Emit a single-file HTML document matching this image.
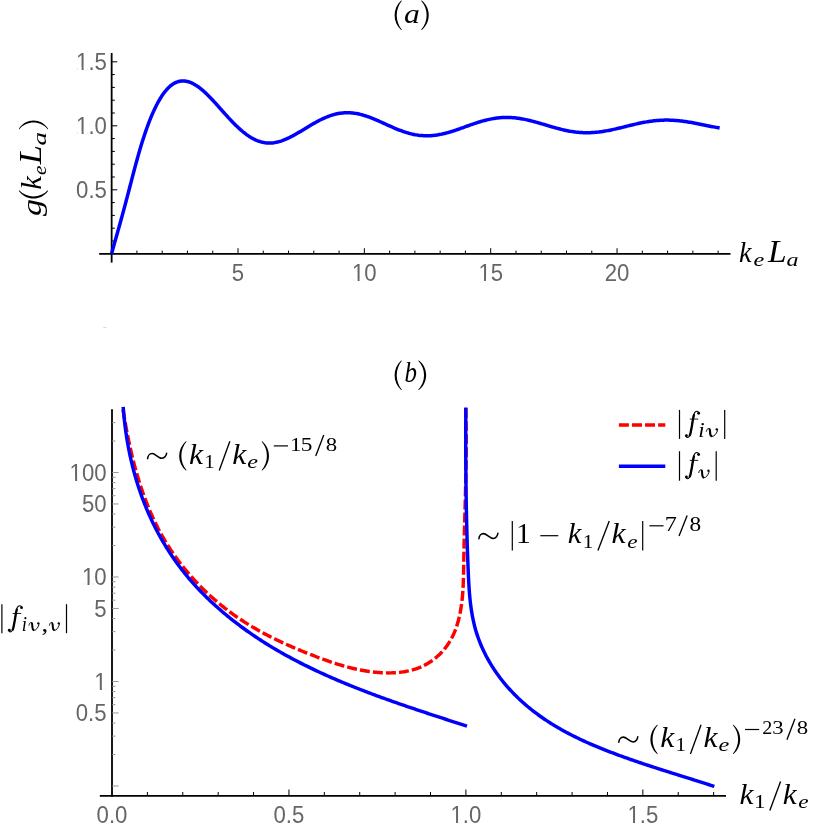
<!DOCTYPE html>
<html><head><meta charset="utf-8"><title>Plots</title>
<style>
html,body{margin:0;padding:0;background:#fff;}
body{width:814px;height:830px;overflow:hidden;font-family:"Liberation Sans",sans-serif;}
svg{display:block;will-change:transform;}
</style></head><body>
<svg width="814" height="830" viewBox="0 0 814 830">
<rect width="814" height="830" fill="#fff"/>
<line x1="99.20" y1="253.80" x2="730.50" y2="253.80" stroke="#000" stroke-width="1.8" />
<line x1="111.65" y1="53.00" x2="111.65" y2="262.60" stroke="#000" stroke-width="1.8" />
<line x1="136.92" y1="253.80" x2="136.92" y2="250.60" stroke="#000" stroke-width="1.0" />
<line x1="162.19" y1="253.80" x2="162.19" y2="250.60" stroke="#000" stroke-width="1.0" />
<line x1="187.46" y1="253.80" x2="187.46" y2="250.60" stroke="#000" stroke-width="1.0" />
<line x1="212.73" y1="253.80" x2="212.73" y2="250.60" stroke="#000" stroke-width="1.0" />
<line x1="238.00" y1="253.80" x2="238.00" y2="248.20" stroke="#000" stroke-width="1.0" />
<line x1="263.27" y1="253.80" x2="263.27" y2="250.60" stroke="#000" stroke-width="1.0" />
<line x1="288.54" y1="253.80" x2="288.54" y2="250.60" stroke="#000" stroke-width="1.0" />
<line x1="313.81" y1="253.80" x2="313.81" y2="250.60" stroke="#000" stroke-width="1.0" />
<line x1="339.08" y1="253.80" x2="339.08" y2="250.60" stroke="#000" stroke-width="1.0" />
<line x1="364.35" y1="253.80" x2="364.35" y2="248.20" stroke="#000" stroke-width="1.0" />
<line x1="389.62" y1="253.80" x2="389.62" y2="250.60" stroke="#000" stroke-width="1.0" />
<line x1="414.89" y1="253.80" x2="414.89" y2="250.60" stroke="#000" stroke-width="1.0" />
<line x1="440.16" y1="253.80" x2="440.16" y2="250.60" stroke="#000" stroke-width="1.0" />
<line x1="465.43" y1="253.80" x2="465.43" y2="250.60" stroke="#000" stroke-width="1.0" />
<line x1="490.70" y1="253.80" x2="490.70" y2="248.20" stroke="#000" stroke-width="1.0" />
<line x1="515.97" y1="253.80" x2="515.97" y2="250.60" stroke="#000" stroke-width="1.0" />
<line x1="541.24" y1="253.80" x2="541.24" y2="250.60" stroke="#000" stroke-width="1.0" />
<line x1="566.51" y1="253.80" x2="566.51" y2="250.60" stroke="#000" stroke-width="1.0" />
<line x1="591.78" y1="253.80" x2="591.78" y2="250.60" stroke="#000" stroke-width="1.0" />
<line x1="617.05" y1="253.80" x2="617.05" y2="248.20" stroke="#000" stroke-width="1.0" />
<line x1="642.32" y1="253.80" x2="642.32" y2="250.60" stroke="#000" stroke-width="1.0" />
<line x1="667.59" y1="253.80" x2="667.59" y2="250.60" stroke="#000" stroke-width="1.0" />
<line x1="692.86" y1="253.80" x2="692.86" y2="250.60" stroke="#000" stroke-width="1.0" />
<line x1="718.13" y1="253.80" x2="718.13" y2="250.60" stroke="#000" stroke-width="1.0" />
<line x1="111.65" y1="241.00" x2="114.85" y2="241.00" stroke="#000" stroke-width="1.0" />
<line x1="111.65" y1="228.20" x2="114.85" y2="228.20" stroke="#000" stroke-width="1.0" />
<line x1="111.65" y1="215.40" x2="114.85" y2="215.40" stroke="#000" stroke-width="1.0" />
<line x1="111.65" y1="202.60" x2="114.85" y2="202.60" stroke="#000" stroke-width="1.0" />
<line x1="111.65" y1="189.80" x2="117.25" y2="189.80" stroke="#000" stroke-width="1.0" />
<line x1="111.65" y1="177.00" x2="114.85" y2="177.00" stroke="#000" stroke-width="1.0" />
<line x1="111.65" y1="164.20" x2="114.85" y2="164.20" stroke="#000" stroke-width="1.0" />
<line x1="111.65" y1="151.40" x2="114.85" y2="151.40" stroke="#000" stroke-width="1.0" />
<line x1="111.65" y1="138.60" x2="114.85" y2="138.60" stroke="#000" stroke-width="1.0" />
<line x1="111.65" y1="125.80" x2="117.25" y2="125.80" stroke="#000" stroke-width="1.0" />
<line x1="111.65" y1="113.00" x2="114.85" y2="113.00" stroke="#000" stroke-width="1.0" />
<line x1="111.65" y1="100.20" x2="114.85" y2="100.20" stroke="#000" stroke-width="1.0" />
<line x1="111.65" y1="87.40" x2="114.85" y2="87.40" stroke="#000" stroke-width="1.0" />
<line x1="111.65" y1="74.60" x2="114.85" y2="74.60" stroke="#000" stroke-width="1.0" />
<line x1="111.65" y1="61.80" x2="117.25" y2="61.80" stroke="#000" stroke-width="1.0" />
<text transform="translate(238.00 281.03) scale(0.905 1)" font-family="Liberation Sans" font-size="24.5" fill="#666" text-anchor="middle">5</text>
<text transform="translate(364.35 281.03) scale(0.905 1)" font-family="Liberation Sans" font-size="24.5" fill="#666" text-anchor="middle">10</text>
<rect x="353.43" y="278.85" width="4.15" height="2.78" fill="#fff"/>
<rect x="359.57" y="278.85" width="3.99" height="2.78" fill="#fff"/>
<text transform="translate(490.70 281.03) scale(0.905 1)" font-family="Liberation Sans" font-size="24.5" fill="#666" text-anchor="middle">15</text>
<rect x="479.78" y="278.85" width="4.15" height="2.78" fill="#fff"/>
<rect x="485.92" y="278.85" width="3.99" height="2.78" fill="#fff"/>
<text transform="translate(617.05 281.03) scale(0.905 1)" font-family="Liberation Sans" font-size="24.5" fill="#666" text-anchor="middle">20</text>
<text transform="translate(106.90 197.73) scale(0.905 1)" font-family="Liberation Sans" font-size="24.5" fill="#666" text-anchor="end">0.5</text>
<text transform="translate(106.90 133.73) scale(0.905 1)" font-family="Liberation Sans" font-size="24.5" fill="#666" text-anchor="end">1.0</text>
<rect x="77.48" y="131.55" width="4.15" height="2.78" fill="#fff"/>
<rect x="83.63" y="131.55" width="3.99" height="2.78" fill="#fff"/>
<text transform="translate(106.90 69.73) scale(0.905 1)" font-family="Liberation Sans" font-size="24.5" fill="#666" text-anchor="end">1.5</text>
<rect x="77.48" y="67.55" width="4.15" height="2.78" fill="#fff"/>
<rect x="83.63" y="67.55" width="3.99" height="2.78" fill="#fff"/>
<path d="M111.65,253.80 L112.87,248.96 L114.09,244.64 L115.31,240.32 L116.52,236.00 L117.74,231.67 L118.96,227.32 L120.18,222.96 L121.40,218.56 L122.62,214.13 L123.83,209.65 L125.05,205.12 L126.27,200.54 L127.49,195.90 L128.71,191.22 L129.93,186.53 L131.14,181.84 L132.36,177.16 L133.58,172.52 L134.80,167.92 L136.02,163.39 L137.24,158.95 L138.46,154.60 L139.67,150.37 L140.89,146.27 L142.11,142.30 L143.33,138.46 L144.55,134.75 L145.77,131.16 L146.98,127.71 L148.20,124.39 L149.42,121.20 L150.64,118.13 L151.86,115.20 L153.08,112.40 L154.30,109.72 L155.51,107.17 L156.73,104.75 L157.95,102.46 L159.17,100.29 L160.39,98.24 L161.61,96.32 L162.82,94.52 L164.04,92.84 L165.26,91.28 L166.48,89.84 L167.70,88.51 L168.92,87.30 L170.13,86.20 L171.35,85.21 L172.57,84.33 L173.79,83.56 L175.01,82.89 L176.23,82.33 L177.45,81.86 L178.66,81.49 L179.88,81.22 L181.10,81.04 L182.32,80.95 L183.54,80.94 L184.76,81.03 L185.97,81.19 L187.19,81.43 L188.41,81.75 L189.63,82.15 L190.85,82.61 L192.07,83.15 L193.28,83.75 L194.50,84.42 L195.72,85.15 L196.94,85.94 L198.16,86.78 L199.38,87.68 L200.60,88.63 L201.81,89.63 L203.03,90.67 L204.25,91.75 L205.47,92.88 L206.69,94.04 L207.91,95.23 L209.12,96.45 L210.34,97.70 L211.56,98.98 L212.78,100.28 L214.00,101.59 L215.22,102.92 L216.43,104.27 L217.65,105.62 L218.87,106.99 L220.09,108.36 L221.31,109.73 L222.53,111.10 L223.75,112.46 L224.96,113.82 L226.18,115.18 L227.40,116.52 L228.62,117.85 L229.84,119.16 L231.06,120.46 L232.27,121.74 L233.49,122.99 L234.71,124.22 L235.93,125.43 L237.15,126.60 L238.37,127.75 L239.59,128.87 L240.80,129.95 L242.02,130.99 L243.24,132.01 L244.46,132.98 L245.68,133.91 L246.90,134.81 L248.11,135.66 L249.33,136.47 L250.55,137.23 L251.77,137.95 L252.99,138.63 L254.21,139.25 L255.42,139.84 L256.64,140.37 L257.86,140.86 L259.08,141.29 L260.30,141.68 L261.52,142.02 L262.74,142.31 L263.95,142.56 L265.17,142.75 L266.39,142.89 L267.61,142.99 L268.83,143.04 L270.05,143.03 L271.26,142.99 L272.48,142.89 L273.70,142.75 L274.92,142.57 L276.14,142.34 L277.36,142.08 L278.57,141.77 L279.79,141.43 L281.01,141.05 L282.23,140.64 L283.45,140.19 L284.67,139.71 L285.89,139.20 L287.10,138.66 L288.32,138.10 L289.54,137.51 L290.76,136.90 L291.98,136.27 L293.20,135.61 L294.41,134.94 L295.63,134.26 L296.85,133.56 L298.07,132.85 L299.29,132.13 L300.51,131.40 L301.72,130.67 L302.94,129.93 L304.16,129.19 L305.38,128.45 L306.60,127.70 L307.82,126.96 L309.04,126.23 L310.25,125.50 L311.47,124.78 L312.69,124.07 L313.91,123.37 L315.13,122.68 L316.35,122.00 L317.56,121.34 L318.78,120.70 L320.00,120.07 L321.22,119.47 L322.44,118.88 L323.66,118.32 L324.88,117.78 L326.09,117.26 L327.31,116.76 L328.53,116.30 L329.75,115.85 L330.97,115.44 L332.19,115.05 L333.40,114.69 L334.62,114.36 L335.84,114.06 L337.06,113.79 L338.28,113.55 L339.50,113.34 L340.71,113.16 L341.93,113.01 L343.15,112.90 L344.37,112.81 L345.59,112.75 L346.81,112.73 L348.03,112.73 L349.24,112.77 L350.46,112.83 L351.68,112.92 L352.90,113.05 L354.12,113.20 L355.34,113.38 L356.55,113.58 L357.77,113.82 L358.99,114.08 L360.21,114.36 L361.43,114.67 L362.65,115.00 L363.86,115.35 L365.08,115.73 L366.30,116.12 L367.52,116.54 L368.74,116.97 L369.96,117.42 L371.18,117.88 L372.39,118.36 L373.61,118.86 L374.83,119.36 L376.05,119.88 L377.27,120.40 L378.49,120.94 L379.70,121.48 L380.92,122.02 L382.14,122.57 L383.36,123.13 L384.58,123.68 L385.80,124.24 L387.02,124.79 L388.23,125.34 L389.45,125.89 L390.67,126.43 L391.89,126.97 L393.11,127.50 L394.33,128.03 L395.54,128.54 L396.76,129.04 L397.98,129.53 L399.20,130.01 L400.42,130.47 L401.64,130.92 L402.85,131.36 L404.07,131.78 L405.29,132.18 L406.51,132.56 L407.73,132.92 L408.95,133.27 L410.17,133.59 L411.38,133.90 L412.60,134.18 L413.82,134.44 L415.04,134.68 L416.26,134.89 L417.48,135.09 L418.69,135.26 L419.91,135.40 L421.13,135.53 L422.35,135.62 L423.57,135.70 L424.79,135.75 L426.00,135.78 L427.22,135.78 L428.44,135.77 L429.66,135.72 L430.88,135.66 L432.10,135.57 L433.32,135.46 L434.53,135.33 L435.75,135.17 L436.97,135.00 L438.19,134.81 L439.41,134.59 L440.63,134.36 L441.84,134.10 L443.06,133.83 L444.28,133.55 L445.50,133.24 L446.72,132.92 L447.94,132.59 L449.15,132.24 L450.37,131.88 L451.59,131.51 L452.81,131.13 L454.03,130.73 L455.25,130.33 L456.47,129.92 L457.68,129.50 L458.90,129.08 L460.12,128.65 L461.34,128.22 L462.56,127.78 L463.78,127.34 L464.99,126.90 L466.21,126.46 L467.43,126.02 L468.65,125.59 L469.87,125.15 L471.09,124.72 L472.31,124.30 L473.52,123.88 L474.74,123.46 L475.96,123.06 L477.18,122.66 L478.40,122.28 L479.62,121.90 L480.83,121.53 L482.05,121.18 L483.27,120.84 L484.49,120.51 L485.71,120.19 L486.93,119.89 L488.14,119.61 L489.36,119.34 L490.58,119.09 L491.80,118.85 L493.02,118.63 L494.24,118.43 L495.46,118.25 L496.67,118.08 L497.89,117.93 L499.11,117.81 L500.33,117.70 L501.55,117.61 L502.77,117.53 L503.98,117.48 L505.20,117.45 L506.42,117.44 L507.64,117.44 L508.86,117.47 L510.08,117.51 L511.29,117.57 L512.51,117.65 L513.73,117.75 L514.95,117.86 L516.17,118.00 L517.39,118.15 L518.61,118.31 L519.82,118.50 L521.04,118.70 L522.26,118.91 L523.48,119.14 L524.70,119.38 L525.92,119.63 L527.13,119.90 L528.35,120.18 L529.57,120.47 L530.79,120.77 L532.01,121.08 L533.23,121.40 L534.44,121.73 L535.66,122.07 L536.88,122.41 L538.10,122.76 L539.32,123.11 L540.54,123.47 L541.76,123.83 L542.97,124.19 L544.19,124.55 L545.41,124.92 L546.63,125.28 L547.85,125.65 L549.07,126.01 L550.28,126.37 L551.50,126.72 L552.72,127.08 L553.94,127.42 L555.16,127.77 L556.38,128.10 L557.60,128.43 L558.81,128.75 L560.03,129.06 L561.25,129.36 L562.47,129.66 L563.69,129.94 L564.91,130.21 L566.12,130.47 L567.34,130.72 L568.56,130.95 L569.78,131.18 L571.00,131.38 L572.22,131.58 L573.43,131.76 L574.65,131.92 L575.87,132.08 L577.09,132.21 L578.31,132.33 L579.53,132.44 L580.75,132.53 L581.96,132.60 L583.18,132.66 L584.40,132.70 L585.62,132.72 L586.84,132.73 L588.06,132.73 L589.27,132.70 L590.49,132.67 L591.71,132.61 L592.93,132.54 L594.15,132.46 L595.37,132.36 L596.58,132.25 L597.80,132.12 L599.02,131.98 L600.24,131.83 L601.46,131.66 L602.68,131.48 L603.90,131.29 L605.11,131.09 L606.33,130.87 L607.55,130.65 L608.77,130.42 L609.99,130.17 L611.21,129.92 L612.42,129.66 L613.64,129.40 L614.86,129.12 L616.08,128.84 L617.30,128.56 L618.52,128.27 L619.74,127.97 L620.95,127.68 L622.17,127.38 L623.39,127.08 L624.61,126.77 L625.83,126.47 L627.05,126.17 L628.26,125.87 L629.48,125.57 L630.70,125.27 L631.92,124.97 L633.14,124.68 L634.36,124.39 L635.57,124.11 L636.79,123.84 L638.01,123.56 L639.23,123.30 L640.45,123.04 L641.67,122.80 L642.89,122.56 L644.10,122.32 L645.32,122.10 L646.54,121.89 L647.76,121.69 L648.98,121.50 L650.20,121.32 L651.41,121.15 L652.63,120.99 L653.85,120.85 L655.07,120.72 L656.29,120.60 L657.51,120.49 L658.72,120.39 L659.94,120.31 L661.16,120.25 L662.38,120.19 L663.60,120.15 L664.82,120.12 L666.04,120.11 L667.25,120.11 L668.47,120.12 L669.69,120.15 L670.91,120.18 L672.13,120.24 L673.35,120.30 L674.56,120.38 L675.78,120.46 L677.00,120.56 L678.22,120.68 L679.44,120.80 L680.66,120.93 L681.87,121.08 L683.09,121.23 L684.31,121.40 L685.53,121.57 L686.75,121.76 L687.97,121.95 L689.19,122.15 L690.40,122.35 L691.62,122.57 L692.84,122.79 L694.06,123.01 L695.28,123.24 L696.50,123.47 L697.71,123.71 L698.93,123.95 L700.15,124.20 L701.37,124.45 L702.59,124.69 L703.81,124.94 L705.03,125.19 L706.24,125.44 L707.46,125.69 L708.68,125.93 L709.90,126.18 L711.12,126.42 L712.34,126.66 L713.55,126.89 L714.77,127.12 L715.99,127.35 L717.21,127.57 L718.43,127.78 L719.65,127.98" fill="none" stroke="#0000ff" stroke-width="3.5" stroke-linejoin="round"/>
<path d="M401.15,0.50 C392.42,8.39 392.42,22.11 401.15,30.00 L401.90,29.75 C395.03,21.30 395.03,9.20 401.90,0.75 Z" fill="#000"/>
<text transform="matrix(0.3168 0 0 0.2771 403.95 23.02)" font-family="Liberation Serif" font-style="italic" font-size="100" fill="#000">a</text>
<path d="M421.85,0.50 C431.12,8.15 431.12,22.35 421.85,30.00 L421.10,29.75 C428.50,21.50 428.50,9.00 421.10,0.75 Z" fill="#000"/>
<text transform="matrix(0.2807 0 0 0.2986 738.96 262.25)" font-family="Liberation Serif" font-style="italic" font-size="100" fill="#000">k</text>
<text transform="matrix(0.2420 0 0 0.1875 753.57 266.11)" font-family="Liberation Serif" font-style="italic" font-size="100" fill="#000">e</text>
<text transform="matrix(0.3349 0 0 0.3092 768.02 262.25)" font-family="Liberation Serif" font-style="italic" font-size="100" fill="#000">L</text>
<text transform="matrix(0.2405 0 0 0.1875 786.58 266.11)" font-family="Liberation Serif" font-style="italic" font-size="100" fill="#000">a</text>
<g transform="translate(0 216) rotate(-90)">
<text transform="matrix(0.3394 0 0 0.2784 0.05 41.08)" font-family="Liberation Serif" font-style="italic" font-size="100" fill="#000">g</text>
<path d="M24.95,18.90 C14.88,26.03 14.88,40.97 24.95,48.10 L25.70,47.85 C17.50,40.04 17.50,26.96 25.70,19.15 Z" fill="#000"/>
<text transform="matrix(0.3064 0 0 0.3007 26.18 40.70)" font-family="Liberation Serif" font-style="italic" font-size="100" fill="#000">k</text>
<text transform="matrix(0.2115 0 0 0.1875 40.97 45.61)" font-family="Liberation Serif" font-style="italic" font-size="100" fill="#000">e</text>
<text transform="matrix(0.3445 0 0 0.3099 51.73 40.70)" font-family="Liberation Serif" font-style="italic" font-size="100" fill="#000">L</text>
<text transform="matrix(0.2705 0 0 0.1875 70.59 45.61)" font-family="Liberation Serif" font-style="italic" font-size="100" fill="#000">a</text>
<path d="M87.35,18.90 C98.35,25.53 98.35,41.47 87.35,48.10 L86.60,47.85 C95.73,40.46 95.73,26.54 86.60,19.15 Z" fill="#000"/>
</g>
<line x1="103.30" y1="327.50" x2="106.30" y2="327.50" stroke="#d8d8d8" stroke-width="1.0" />
<line x1="99.80" y1="795.80" x2="726.00" y2="795.80" stroke="#000" stroke-width="1.8" />
<line x1="112.00" y1="409.20" x2="112.00" y2="796.70" stroke="#000" stroke-width="1.8" />
<line x1="147.39" y1="795.80" x2="147.39" y2="792.00" stroke="#000" stroke-width="1.0" />
<line x1="182.78" y1="795.80" x2="182.78" y2="792.00" stroke="#000" stroke-width="1.0" />
<line x1="218.17" y1="795.80" x2="218.17" y2="792.00" stroke="#000" stroke-width="1.0" />
<line x1="253.56" y1="795.80" x2="253.56" y2="792.00" stroke="#000" stroke-width="1.0" />
<line x1="288.95" y1="795.80" x2="288.95" y2="789.50" stroke="#000" stroke-width="1.0" />
<line x1="324.34" y1="795.80" x2="324.34" y2="792.00" stroke="#000" stroke-width="1.0" />
<line x1="359.73" y1="795.80" x2="359.73" y2="792.00" stroke="#000" stroke-width="1.0" />
<line x1="395.12" y1="795.80" x2="395.12" y2="792.00" stroke="#000" stroke-width="1.0" />
<line x1="430.51" y1="795.80" x2="430.51" y2="792.00" stroke="#000" stroke-width="1.0" />
<line x1="465.90" y1="795.80" x2="465.90" y2="789.50" stroke="#000" stroke-width="1.0" />
<line x1="501.29" y1="795.80" x2="501.29" y2="792.00" stroke="#000" stroke-width="1.0" />
<line x1="536.68" y1="795.80" x2="536.68" y2="792.00" stroke="#000" stroke-width="1.0" />
<line x1="572.07" y1="795.80" x2="572.07" y2="792.00" stroke="#000" stroke-width="1.0" />
<line x1="607.46" y1="795.80" x2="607.46" y2="792.00" stroke="#000" stroke-width="1.0" />
<line x1="642.85" y1="795.80" x2="642.85" y2="789.50" stroke="#000" stroke-width="1.0" />
<line x1="678.24" y1="795.80" x2="678.24" y2="792.00" stroke="#000" stroke-width="1.0" />
<line x1="713.63" y1="795.80" x2="713.63" y2="792.00" stroke="#000" stroke-width="1.0" />
<line x1="112.00" y1="472.50" x2="118.60" y2="472.50" stroke="#8c8c8c" stroke-width="0.9" />
<line x1="112.00" y1="503.96" x2="118.60" y2="503.96" stroke="#8c8c8c" stroke-width="0.9" />
<line x1="112.00" y1="577.00" x2="118.60" y2="577.00" stroke="#8c8c8c" stroke-width="0.9" />
<line x1="112.00" y1="608.46" x2="118.60" y2="608.46" stroke="#8c8c8c" stroke-width="0.9" />
<line x1="112.00" y1="681.50" x2="118.60" y2="681.50" stroke="#8c8c8c" stroke-width="0.9" />
<line x1="112.00" y1="712.96" x2="118.60" y2="712.96" stroke="#8c8c8c" stroke-width="0.9" />
<line x1="112.00" y1="786.00" x2="118.60" y2="786.00" stroke="#8c8c8c" stroke-width="0.9" />
<line x1="112.00" y1="422.64" x2="115.50" y2="422.64" stroke="#8c8c8c" stroke-width="0.9" />
<line x1="112.00" y1="441.04" x2="115.50" y2="441.04" stroke="#8c8c8c" stroke-width="0.9" />
<line x1="112.00" y1="477.28" x2="115.50" y2="477.28" stroke="#8c8c8c" stroke-width="0.9" />
<line x1="112.00" y1="482.63" x2="115.50" y2="482.63" stroke="#8c8c8c" stroke-width="0.9" />
<line x1="112.00" y1="488.69" x2="115.50" y2="488.69" stroke="#8c8c8c" stroke-width="0.9" />
<line x1="112.00" y1="495.68" x2="115.50" y2="495.68" stroke="#8c8c8c" stroke-width="0.9" />
<line x1="112.00" y1="514.08" x2="115.50" y2="514.08" stroke="#8c8c8c" stroke-width="0.9" />
<line x1="112.00" y1="527.14" x2="115.50" y2="527.14" stroke="#8c8c8c" stroke-width="0.9" />
<line x1="112.00" y1="545.54" x2="115.50" y2="545.54" stroke="#8c8c8c" stroke-width="0.9" />
<line x1="112.00" y1="581.78" x2="115.50" y2="581.78" stroke="#8c8c8c" stroke-width="0.9" />
<line x1="112.00" y1="587.13" x2="115.50" y2="587.13" stroke="#8c8c8c" stroke-width="0.9" />
<line x1="112.00" y1="593.19" x2="115.50" y2="593.19" stroke="#8c8c8c" stroke-width="0.9" />
<line x1="112.00" y1="600.18" x2="115.50" y2="600.18" stroke="#8c8c8c" stroke-width="0.9" />
<line x1="112.00" y1="618.58" x2="115.50" y2="618.58" stroke="#8c8c8c" stroke-width="0.9" />
<line x1="112.00" y1="631.64" x2="115.50" y2="631.64" stroke="#8c8c8c" stroke-width="0.9" />
<line x1="112.00" y1="650.04" x2="115.50" y2="650.04" stroke="#8c8c8c" stroke-width="0.9" />
<line x1="112.00" y1="686.28" x2="115.50" y2="686.28" stroke="#8c8c8c" stroke-width="0.9" />
<line x1="112.00" y1="691.63" x2="115.50" y2="691.63" stroke="#8c8c8c" stroke-width="0.9" />
<line x1="112.00" y1="697.69" x2="115.50" y2="697.69" stroke="#8c8c8c" stroke-width="0.9" />
<line x1="112.00" y1="704.68" x2="115.50" y2="704.68" stroke="#8c8c8c" stroke-width="0.9" />
<line x1="112.00" y1="723.08" x2="115.50" y2="723.08" stroke="#8c8c8c" stroke-width="0.9" />
<line x1="112.00" y1="736.14" x2="115.50" y2="736.14" stroke="#8c8c8c" stroke-width="0.9" />
<line x1="112.00" y1="754.54" x2="115.50" y2="754.54" stroke="#8c8c8c" stroke-width="0.9" />
<text transform="translate(106.60 480.73) scale(0.905 1)" font-family="Liberation Sans" font-size="24.5" fill="#666" text-anchor="end">100</text>
<rect x="71.01" y="478.55" width="4.15" height="2.78" fill="#fff"/>
<rect x="77.16" y="478.55" width="3.99" height="2.78" fill="#fff"/>
<text transform="translate(106.60 512.19) scale(0.905 1)" font-family="Liberation Sans" font-size="24.5" fill="#666" text-anchor="end">50</text>
<text transform="translate(106.60 585.23) scale(0.905 1)" font-family="Liberation Sans" font-size="24.5" fill="#666" text-anchor="end">10</text>
<rect x="83.34" y="583.05" width="4.15" height="2.78" fill="#fff"/>
<rect x="89.49" y="583.05" width="3.99" height="2.78" fill="#fff"/>
<text transform="translate(106.60 616.69) scale(0.905 1)" font-family="Liberation Sans" font-size="24.5" fill="#666" text-anchor="end">5</text>
<text transform="translate(106.60 689.73) scale(0.905 1)" font-family="Liberation Sans" font-size="24.5" fill="#666" text-anchor="end">1</text>
<rect x="95.68" y="687.55" width="4.15" height="2.78" fill="#fff"/>
<rect x="101.82" y="687.55" width="3.99" height="2.78" fill="#fff"/>
<text transform="translate(106.60 721.19) scale(0.905 1)" font-family="Liberation Sans" font-size="24.5" fill="#666" text-anchor="end">0.5</text>
<text transform="translate(112.00 823.13) scale(0.905 1)" font-family="Liberation Sans" font-size="24.5" fill="#666" text-anchor="middle">0.0</text>
<text transform="translate(288.95 823.13) scale(0.905 1)" font-family="Liberation Sans" font-size="24.5" fill="#666" text-anchor="middle">0.5</text>
<text transform="translate(465.90 823.13) scale(0.905 1)" font-family="Liberation Sans" font-size="24.5" fill="#666" text-anchor="middle">1.0</text>
<rect x="451.90" y="820.95" width="4.15" height="2.78" fill="#fff"/>
<rect x="458.04" y="820.95" width="3.99" height="2.78" fill="#fff"/>
<text transform="translate(642.85 823.13) scale(0.905 1)" font-family="Liberation Sans" font-size="24.5" fill="#666" text-anchor="middle">1.5</text>
<rect x="628.85" y="820.95" width="4.15" height="2.78" fill="#fff"/>
<rect x="634.99" y="820.95" width="3.99" height="2.78" fill="#fff"/>
<path d="M122.64,407.22 L122.87,408.65 L123.10,410.08 L123.33,411.52 L123.56,412.95 L123.80,414.38 L124.04,415.81 L124.28,417.25 L124.52,418.68 L124.77,420.11 L125.02,421.54 L125.27,422.97 L125.53,424.40 L125.79,425.83 L126.05,427.26 L126.31,428.69 L126.58,430.11 L126.85,431.54 L127.13,432.97 L127.41,434.39 L127.69,435.82 L127.98,437.24 L128.27,438.66 L128.56,440.08 L128.86,441.50 L129.16,442.92 L129.46,444.34 L129.77,445.76 L130.08,447.18 L130.40,448.59 L130.72,450.00 L131.04,451.42 L131.37,452.83 L131.70,454.24 L132.04,455.65 L132.38,457.05 L132.73,458.46 L133.08,459.86 L133.43,461.26 L133.79,462.66 L134.15,464.06 L134.52,465.46 L134.90,466.85 L135.27,468.25 L135.66,469.64 L136.04,471.03 L136.44,472.42 L136.83,473.80 L137.24,475.19 L137.65,476.57 L138.06,477.95 L138.48,479.33 L138.90,480.70 L139.33,482.07 L139.76,483.45 L140.20,484.81 L140.65,486.18 L141.10,487.54 L141.56,488.91 L142.02,490.27 L142.49,491.62 L142.96,492.98 L143.44,494.33 L143.93,495.68 L144.42,497.02 L144.92,498.37 L145.42,499.71 L145.93,501.05 L146.44,502.38 L146.97,503.71 L147.50,505.04 L148.03,506.37 L148.57,507.69 L149.12,509.01 L149.67,510.33 L150.24,511.64 L150.80,512.96 L151.38,514.26 L151.96,515.57 L152.55,516.87 L153.14,518.17 L153.74,519.46 L154.35,520.75 L154.97,522.04 L155.59,523.33 L156.22,524.61 L156.86,525.89 L157.50,527.16 L158.16,528.43 L158.82,529.70 L159.48,530.96 L160.16,532.22 L160.84,533.47 L161.53,534.72 L162.23,535.97 L162.93,537.21 L163.64,538.45 L164.36,539.69 L165.09,540.92 L165.83,542.15 L166.57,543.37 L167.33,544.59 L168.09,545.80 L168.86,547.01 L169.63,548.22 L170.42,549.42 L171.21,550.62 L172.01,551.81 L172.82,553.00 L173.64,554.18 L174.46,555.36 L175.29,556.54 L176.13,557.71 L176.97,558.87 L177.83,560.03 L178.69,561.19 L179.56,562.34 L180.43,563.49 L181.32,564.63 L182.21,565.77 L183.10,566.90 L184.01,568.02 L184.92,569.15 L185.84,570.26 L186.76,571.37 L187.69,572.48 L188.63,573.58 L189.58,574.68 L190.53,575.77 L191.49,576.85 L192.45,577.93 L193.42,579.00 L194.40,580.07 L195.39,581.14 L196.38,582.19 L197.37,583.25 L198.38,584.29 L199.39,585.33 L200.40,586.37 L201.42,587.40 L202.45,588.42 L203.48,589.44 L204.52,590.45 L205.57,591.46 L206.62,592.46 L207.68,593.45 L208.74,594.44 L209.81,595.42 L210.88,596.40 L211.96,597.36 L213.04,598.33 L214.13,599.29 L215.23,600.24 L216.33,601.18 L217.44,602.12 L218.55,603.05 L219.66,603.98 L220.78,604.89 L221.91,605.81 L223.04,606.71 L224.18,607.61 L225.32,608.50 L226.46,609.39 L227.61,610.27 L228.77,611.14 L229.93,612.00 L231.09,612.86 L232.26,613.71 L233.43,614.56 L234.61,615.40 L235.79,616.23 L236.98,617.05 L238.17,617.87 L239.36,618.68 L240.56,619.48 L241.76,620.27 L242.97,621.06 L244.18,621.84 L245.39,622.62 L246.61,623.38 L247.83,624.14 L249.06,624.90 L250.29,625.64 L251.52,626.38 L252.76,627.12 L254.00,627.85 L255.24,628.57 L256.49,629.28 L257.74,629.99 L258.99,630.69 L260.24,631.39 L261.50,632.08 L262.77,632.77 L264.03,633.45 L265.30,634.12 L266.57,634.79 L267.84,635.45 L269.12,636.11 L270.40,636.76 L271.68,637.40 L272.96,638.05 L274.25,638.68 L275.54,639.31 L276.83,639.94 L278.13,640.56 L279.42,641.17 L280.72,641.79 L282.02,642.39 L283.32,642.99 L284.63,643.59 L285.93,644.18 L287.24,644.77 L288.55,645.36 L289.86,645.94 L291.18,646.51 L292.49,647.08 L293.81,647.65 L295.13,648.22 L296.45,648.78 L297.77,649.33 L299.09,649.88 L300.41,650.43 L301.74,650.98 L303.06,651.52 L304.39,652.06 L305.72,652.59 L307.05,653.12 L308.38,653.65 L309.71,654.18 L311.04,654.70 L312.37,655.22 L313.71,655.73 L315.04,656.25 L316.38,656.76 L317.71,657.27 L319.05,657.77 L320.39,658.27 L321.73,658.76 L323.07,659.25 L324.41,659.74 L325.75,660.22 L327.10,660.70 L328.45,661.17 L329.80,661.63 L331.15,662.09 L332.51,662.55 L333.87,662.99 L335.23,663.43 L336.60,663.87 L337.96,664.29 L339.33,664.71 L340.71,665.13 L342.09,665.53 L343.47,665.93 L344.85,666.32 L346.24,666.70 L347.63,667.07 L349.03,667.43 L350.43,667.79 L351.84,668.13 L353.25,668.47 L354.67,668.79 L356.09,669.11 L357.51,669.41 L358.94,669.71 L360.38,669.99 L361.82,670.27 L363.27,670.53 L364.72,670.78 L366.18,671.02 L367.64,671.25 L369.11,671.46 L370.58,671.66 L372.06,671.85 L373.54,672.02 L375.02,672.18 L376.50,672.33 L377.99,672.46 L379.47,672.57 L380.96,672.67 L382.44,672.75 L383.93,672.81 L385.41,672.86 L386.89,672.89 L388.37,672.90 L389.85,672.89 L391.33,672.86 L392.80,672.82 L394.26,672.75 L395.72,672.66 L397.18,672.55 L398.63,672.42 L400.08,672.27 L401.51,672.09 L402.94,671.90 L404.37,671.68 L405.78,671.43 L407.18,671.16 L408.58,670.87 L409.97,670.55 L411.34,670.21 L412.70,669.84 L414.06,669.45 L415.40,669.02 L416.73,668.57 L418.04,668.10 L419.34,667.59 L420.63,667.06 L421.90,666.50 L423.16,665.91 L424.41,665.29 L425.63,664.64 L426.85,663.97 L428.04,663.27 L429.22,662.54 L430.38,661.79 L431.53,661.02 L432.65,660.21 L433.76,659.39 L434.85,658.54 L435.92,657.66 L436.97,656.76 L438.01,655.84 L439.02,654.90 L440.01,653.93 L440.98,652.94 L441.94,651.93 L442.87,650.90 L443.77,649.85 L444.66,648.78 L445.53,647.69 L446.37,646.58 L447.19,645.45 L447.98,644.30 L448.75,643.13 L449.50,641.94 L450.22,640.74 L450.92,639.52 L451.59,638.28 L452.24,637.03 L452.87,635.76 L453.47,634.48 L454.04,633.18 L454.60,631.87 L455.13,630.54 L455.64,629.21 L456.13,627.86 L456.60,626.50 L457.04,625.12 L457.47,623.74 L457.88,622.35 L458.27,620.95 L458.64,619.54 L458.99,618.12 L459.33,616.69 L459.64,615.26 L459.94,613.82 L460.23,612.37 L460.50,610.92 L460.75,609.47 L460.99,608.01 L461.22,606.55 L461.43,605.08 L461.63,603.62 L461.82,602.15 L461.99,600.68 L462.15,599.21 L462.30,597.74 L462.44,596.27 L462.57,594.80 L462.69,593.33 L462.80,591.86 L462.90,590.39 L462.99,588.92 L463.08,587.46 L463.15,585.99 L463.22,584.52 L463.29,583.06 L463.34,581.59 L463.40,580.13 L463.44,578.66 L463.48,577.20 L463.52,575.74 L463.56,574.28 L463.59,572.81 L463.62,571.36 L463.64,569.90 L463.66,568.44 L463.69,566.98 L463.71,565.53 L463.73,564.07 L463.75,562.62 L463.77,561.17 L463.80,559.72 L463.82,558.27 L463.85,556.83 L463.87,555.38 L463.90,553.93 L463.93,552.49 L463.96,551.05 L463.99,549.61 L464.02,548.17 L464.05,546.73 L464.08,545.29 L464.11,543.85 L464.15,542.42 L464.18,540.98 L464.21,539.55 L464.25,538.11 L464.28,536.68 L464.32,535.25 L464.36,533.82 L464.39,532.39 L464.43,530.96 L464.47,529.53 L464.51,528.10 L464.54,526.67 L464.58,525.25 L464.62,523.82 L464.66,522.39 L464.70,520.97 L464.74,519.54 L464.78,518.12 L464.82,516.69 L464.86,515.27 L464.90,513.85 L464.94,512.43 L464.98,511.00 L465.02,509.58 L465.06,508.16 L465.10,506.74 L465.14,505.31 L465.17,503.89 L465.21,502.47 L465.25,501.05 L465.29,499.63 L465.33,498.21 L465.37,496.79 L465.40,495.36 L465.44,493.94 L465.48,492.52 L465.51,491.10 L465.55,489.68 L465.58,488.26 L465.62,486.83 L465.65,485.41 L465.68,483.99 L465.72,482.57 L465.75,481.14 L465.78,479.72 L465.81,478.29 L465.84,476.87 L465.87,475.44 L465.89,474.02 L465.92,472.59 L465.95,471.17 L465.97,469.74 L465.99,468.31 L466.02,466.88 L466.04,465.45 L466.06,464.02 L466.08,462.59 L466.10,461.16 L466.11,459.73 L466.13,458.29 L466.15,456.86 L466.16,455.43 L466.17,453.99 L466.18,452.55 L466.19,451.11 L466.20,449.68 L466.21,448.24 L466.21,446.79 L466.21,445.35 L466.22,443.91 L466.22,442.46 L466.22,441.02 L466.21,439.57 L466.21,438.12 L466.20,436.67 L466.20,435.22 L466.19,433.77 L466.18,432.32 L466.16,430.86 L466.15,429.41 L466.13,427.95 L466.11,426.49 L466.09,425.03 L466.07,423.56 L466.05,422.10 L466.02,420.63 L465.99,419.17 L465.96,417.70 L465.93,416.23 L465.89,414.75 L465.85,413.28 L465.82,411.80 L465.77,410.33 L465.73,408.84 L465.68,407.36" fill="none" stroke="#ff0000" stroke-width="3.45" stroke-dasharray="10 3.07" stroke-dashoffset="-2.2"/>
<path d="M123.19,406.76 L123.31,408.48 L123.45,410.19 L123.59,411.91 L123.74,413.62 L123.90,415.34 L124.06,417.05 L124.24,418.76 L124.42,420.47 L124.61,422.18 L124.81,423.89 L125.01,425.60 L125.23,427.30 L125.45,429.01 L125.68,430.71 L125.92,432.41 L126.17,434.11 L126.43,435.81 L126.69,437.51 L126.97,439.20 L127.25,440.90 L127.54,442.59 L127.84,444.28 L128.14,445.97 L128.46,447.65 L128.78,449.33 L129.11,451.02 L129.45,452.70 L129.80,454.37 L130.16,456.05 L130.53,457.72 L130.90,459.39 L131.29,461.06 L131.68,462.72 L132.08,464.38 L132.49,466.04 L132.91,467.70 L133.33,469.35 L133.77,471.00 L134.21,472.65 L134.67,474.30 L135.13,475.94 L135.60,477.58 L136.08,479.21 L136.57,480.85 L137.07,482.47 L137.57,484.10 L138.09,485.72 L138.62,487.34 L139.15,488.96 L139.69,490.57 L140.24,492.17 L140.80,493.78 L141.37,495.38 L141.95,496.97 L142.54,498.57 L143.14,500.15 L143.75,501.74 L144.36,503.32 L144.99,504.89 L145.62,506.47 L146.26,508.03 L146.92,509.60 L147.58,511.16 L148.25,512.71 L148.93,514.26 L149.62,515.80 L150.32,517.34 L151.02,518.88 L151.74,520.41 L152.47,521.94 L153.20,523.46 L153.95,524.97 L154.70,526.48 L155.46,527.99 L156.23,529.49 L157.01,530.98 L157.80,532.47 L158.60,533.96 L159.41,535.44 L160.22,536.91 L161.05,538.38 L161.88,539.84 L162.73,541.30 L163.58,542.75 L164.44,544.20 L165.31,545.64 L166.19,547.07 L167.08,548.50 L167.97,549.92 L168.88,551.33 L169.80,552.74 L170.72,554.15 L171.65,555.54 L172.59,556.93 L173.54,558.32 L174.50,559.69 L175.47,561.07 L176.45,562.43 L177.43,563.79 L178.43,565.14 L179.43,566.48 L180.44,567.82 L181.46,569.15 L182.49,570.47 L183.53,571.79 L184.58,573.10 L185.63,574.41 L186.69,575.70 L187.77,576.99 L188.85,578.28 L189.93,579.55 L191.03,580.82 L192.13,582.08 L193.24,583.34 L194.36,584.59 L195.49,585.83 L196.63,587.07 L197.77,588.30 L198.92,589.52 L200.08,590.74 L201.24,591.95 L202.41,593.15 L203.59,594.35 L204.78,595.54 L205.97,596.72 L207.17,597.90 L208.38,599.07 L209.59,600.23 L210.82,601.39 L212.04,602.54 L213.28,603.69 L214.52,604.83 L215.77,605.96 L217.02,607.08 L218.28,608.20 L219.55,609.32 L220.82,610.42 L222.10,611.52 L223.39,612.61 L224.68,613.70 L225.97,614.78 L227.28,615.86 L228.58,616.92 L229.90,617.99 L231.22,619.04 L232.54,620.09 L233.87,621.13 L235.21,622.17 L236.55,623.20 L237.90,624.23 L239.25,625.24 L240.61,626.26 L241.97,627.26 L243.34,628.26 L244.71,629.25 L246.08,630.24 L247.47,631.22 L248.85,632.20 L250.24,633.17 L251.64,634.13 L253.04,635.08 L254.44,636.04 L255.85,636.98 L257.26,637.92 L258.68,638.85 L260.10,639.78 L261.52,640.70 L262.95,641.61 L264.38,642.52 L265.82,643.42 L267.26,644.32 L268.70,645.21 L270.15,646.10 L271.60,646.97 L273.05,647.85 L274.51,648.71 L275.97,649.58 L277.43,650.43 L278.90,651.28 L280.37,652.13 L281.84,652.97 L283.32,653.80 L284.80,654.63 L286.28,655.45 L287.77,656.27 L289.26,657.08 L290.75,657.89 L292.24,658.69 L293.74,659.48 L295.24,660.27 L296.75,661.06 L298.25,661.84 L299.76,662.62 L301.27,663.39 L302.79,664.15 L304.30,664.92 L305.82,665.67 L307.34,666.42 L308.87,667.17 L310.40,667.91 L311.93,668.65 L313.46,669.38 L314.99,670.11 L316.53,670.84 L318.07,671.56 L319.61,672.27 L321.15,672.98 L322.69,673.69 L324.24,674.39 L325.79,675.09 L327.34,675.79 L328.90,676.48 L330.45,677.16 L332.01,677.85 L333.57,678.52 L335.13,679.20 L336.69,679.87 L338.25,680.54 L339.82,681.20 L341.39,681.86 L342.96,682.51 L344.53,683.16 L346.10,683.81 L347.67,684.46 L349.25,685.10 L350.82,685.74 L352.40,686.37 L353.98,687.00 L355.56,687.63 L357.14,688.26 L358.73,688.88 L360.31,689.50 L361.89,690.11 L363.48,690.72 L365.07,691.33 L366.66,691.94 L368.25,692.54 L369.84,693.14 L371.43,693.74 L373.02,694.33 L374.61,694.93 L376.21,695.52 L377.80,696.10 L379.39,696.69 L380.99,697.27 L382.59,697.85 L384.18,698.42 L385.78,699.00 L387.38,699.57 L388.98,700.14 L390.57,700.71 L392.17,701.27 L393.77,701.83 L395.37,702.40 L396.97,702.95 L398.57,703.51 L400.17,704.07 L401.77,704.62 L403.37,705.17 L404.97,705.72 L406.57,706.27 L408.17,706.81 L409.77,707.36 L411.37,707.90 L412.97,708.44 L414.57,708.98 L416.17,709.52 L417.77,710.05 L419.37,710.59 L420.97,711.12 L422.57,711.65 L424.17,712.18 L425.76,712.71 L427.36,713.24 L428.96,713.77 L430.55,714.29 L432.15,714.82 L433.74,715.34 L435.34,715.87 L436.93,716.39 L438.52,716.91 L440.11,717.43 L441.70,717.95 L443.29,718.47 L444.88,718.99 L446.47,719.51 L448.05,720.03 L449.64,720.54 L451.22,721.06 L452.81,721.57 L454.39,722.09 L455.97,722.61 L457.55,723.12 L459.13,723.64 L460.70,724.15 L462.28,724.66 L463.85,725.18 L465.42,725.69 L466.99,726.21" fill="none" stroke="#0000ff" stroke-width="3.45"/>
<path d="M465.85,407.55 L465.84,408.77 L465.83,409.98 L465.82,411.20 L465.81,412.42 L465.80,413.65 L465.80,414.87 L465.79,416.10 L465.78,417.34 L465.78,418.57 L465.77,419.81 L465.76,421.05 L465.76,422.30 L465.75,423.54 L465.75,424.79 L465.75,426.04 L465.74,427.30 L465.74,428.55 L465.73,429.81 L465.73,431.07 L465.73,432.34 L465.73,433.60 L465.73,434.87 L465.73,436.14 L465.72,437.41 L465.72,438.69 L465.72,439.97 L465.72,441.24 L465.73,442.53 L465.73,443.81 L465.73,445.09 L465.73,446.38 L465.73,447.67 L465.74,448.96 L465.74,450.26 L465.74,451.55 L465.75,452.85 L465.75,454.15 L465.76,455.45 L465.76,456.75 L465.77,458.05 L465.78,459.36 L465.78,460.67 L465.79,461.98 L465.80,463.29 L465.81,464.60 L465.82,465.91 L465.82,467.23 L465.83,468.54 L465.84,469.86 L465.86,471.18 L465.87,472.50 L465.88,473.82 L465.89,475.14 L465.90,476.47 L465.92,477.79 L465.93,479.12 L465.94,480.45 L465.96,481.78 L465.97,483.11 L465.99,484.44 L466.00,485.77 L466.02,487.10 L466.04,488.44 L466.06,489.77 L466.07,491.11 L466.09,492.44 L466.11,493.78 L466.13,495.12 L466.15,496.46 L466.17,497.80 L466.19,499.14 L466.22,500.48 L466.24,501.82 L466.26,503.16 L466.29,504.50 L466.31,505.84 L466.33,507.19 L466.36,508.53 L466.38,509.88 L466.41,511.22 L466.44,512.56 L466.47,513.91 L466.49,515.25 L466.52,516.60 L466.55,517.95 L466.58,519.29 L466.61,520.64 L466.64,521.98 L466.67,523.33 L466.71,524.68 L466.74,526.02 L466.77,527.37 L466.81,528.71 L466.84,530.06 L466.88,531.40 L466.91,532.75 L466.95,534.10 L466.98,535.44 L467.02,536.79 L467.06,538.13 L467.10,539.47 L467.14,540.82 L467.18,542.16 L467.22,543.50 L467.26,544.85 L467.30,546.19 L467.35,547.53 L467.39,548.87 L467.43,550.21 L467.48,551.55 L467.52,552.89 L467.57,554.22 L467.62,555.56 L467.66,556.90 L467.71,558.23 L467.76,559.57 L467.81,560.90 L467.86,562.24 L467.91,563.57 L467.96,564.90 L468.01,566.23 L468.07,567.56 L468.12,568.88 L468.17,570.21 L468.23,571.54 L468.28,572.86 L468.34,574.18 L468.40,575.51 L468.46,576.83 L468.52,578.14 L468.59,579.46 L468.66,580.78 L468.73,582.09 L468.80,583.41 L468.88,584.72 L468.96,586.03 L469.04,587.34 L469.13,588.65 L469.22,589.95 L469.32,591.26 L469.42,592.56 L469.52,593.86 L469.64,595.16 L469.75,596.45 L469.87,597.75 L470.00,599.04 L470.14,600.33 L470.28,601.62 L470.43,602.91 L470.58,604.20 L470.74,605.48 L470.91,606.76 L471.09,608.04 L471.27,609.32 L471.47,610.59 L471.67,611.86 L471.88,613.14 L472.10,614.40 L472.32,615.67 L472.56,616.93 L472.81,618.19 L473.06,619.45 L473.33,620.71 L473.61,621.96 L473.90,623.21 L474.19,624.46 L474.50,625.71 L474.83,626.95 L475.16,628.19 L475.50,629.43 L475.86,630.67 L476.23,631.90 L476.61,633.13 L477.00,634.36 L477.41,635.58 L477.83,636.80 L478.26,638.02 L478.70,639.24 L479.15,640.45 L479.62,641.66 L480.10,642.86 L480.59,644.06 L481.09,645.26 L481.60,646.45 L482.12,647.64 L482.66,648.83 L483.20,650.01 L483.76,651.18 L484.33,652.36 L484.91,653.53 L485.50,654.69 L486.09,655.85 L486.71,657.00 L487.33,658.15 L487.96,659.30 L488.60,660.44 L489.25,661.57 L489.91,662.70 L490.58,663.83 L491.26,664.95 L491.95,666.06 L492.65,667.17 L493.36,668.27 L494.08,669.37 L494.81,670.46 L495.54,671.54 L496.29,672.62 L497.04,673.70 L497.81,674.76 L498.58,675.82 L499.36,676.88 L500.15,677.92 L500.95,678.96 L501.75,680.00 L502.57,681.03 L503.39,682.05 L504.22,683.06 L505.06,684.07 L505.90,685.07 L506.75,686.06 L507.62,687.05 L508.48,688.03 L509.36,689.01 L510.24,689.97 L511.13,690.93 L512.03,691.89 L512.93,692.83 L513.84,693.77 L514.76,694.70 L515.68,695.63 L516.61,696.55 L517.55,697.46 L518.49,698.37 L519.44,699.26 L520.40,700.16 L521.36,701.04 L522.32,701.92 L523.30,702.79 L524.27,703.65 L525.26,704.51 L526.25,705.36 L527.24,706.20 L528.24,707.03 L529.25,707.86 L530.25,708.68 L531.27,709.50 L532.29,710.30 L533.31,711.10 L534.34,711.90 L535.38,712.68 L536.41,713.46 L537.46,714.23 L538.50,715.00 L539.56,715.76 L540.61,716.51 L541.67,717.26 L542.74,717.99 L543.81,718.73 L544.88,719.45 L545.96,720.17 L547.04,720.89 L548.13,721.60 L549.22,722.30 L550.31,723.00 L551.41,723.69 L552.51,724.37 L553.62,725.05 L554.73,725.72 L555.84,726.39 L556.96,727.05 L558.08,727.71 L559.21,728.36 L560.33,729.00 L561.47,729.64 L562.60,730.28 L563.74,730.90 L564.88,731.53 L566.03,732.15 L567.17,732.76 L568.33,733.37 L569.48,733.97 L570.64,734.57 L571.80,735.17 L572.96,735.76 L574.13,736.34 L575.30,736.92 L576.48,737.50 L577.65,738.07 L578.83,738.64 L580.01,739.20 L581.19,739.76 L582.38,740.31 L583.57,740.86 L584.76,741.41 L585.96,741.95 L587.15,742.49 L588.35,743.02 L589.55,743.55 L590.76,744.08 L591.96,744.60 L593.17,745.12 L594.38,745.64 L595.60,746.15 L596.81,746.66 L598.03,747.16 L599.25,747.66 L600.47,748.16 L601.69,748.66 L602.91,749.15 L604.14,749.64 L605.37,750.13 L606.59,750.61 L607.83,751.09 L609.06,751.57 L610.29,752.04 L611.53,752.51 L612.76,752.98 L614.00,753.45 L615.24,753.91 L616.48,754.38 L617.73,754.84 L618.97,755.29 L620.21,755.75 L621.46,756.20 L622.70,756.65 L623.95,757.10 L625.20,757.55 L626.45,757.99 L627.70,758.43 L628.95,758.87 L630.20,759.31 L631.45,759.75 L632.71,760.18 L633.96,760.62 L635.21,761.05 L636.47,761.48 L637.72,761.90 L638.98,762.33 L640.24,762.75 L641.49,763.18 L642.75,763.60 L644.00,764.02 L645.26,764.43 L646.52,764.85 L647.77,765.26 L649.03,765.68 L650.29,766.09 L651.54,766.50 L652.80,766.91 L654.06,767.32 L655.31,767.72 L656.57,768.13 L657.82,768.53 L659.08,768.93 L660.33,769.34 L661.59,769.74 L662.84,770.14 L664.09,770.53 L665.35,770.93 L666.60,771.33 L667.85,771.72 L669.10,772.12 L670.35,772.51 L671.60,772.91 L672.84,773.30 L674.09,773.69 L675.34,774.08 L676.58,774.47 L677.82,774.86 L679.07,775.25 L680.31,775.64 L681.55,776.03 L682.79,776.41 L684.02,776.80 L685.26,777.19 L686.49,777.57 L687.72,777.96 L688.96,778.34 L690.19,778.73 L691.41,779.11 L692.64,779.50 L693.86,779.88 L695.09,780.27 L696.31,780.65 L697.53,781.04 L698.74,781.42 L699.96,781.80 L701.17,782.19 L702.38,782.57 L703.59,782.96 L704.79,783.34 L706.00,783.73 L707.20,784.11 L708.40,784.50 L709.60,784.88 L710.79,785.27 L711.98,785.65 L713.17,786.04 L714.36,786.43" fill="none" stroke="#0000ff" stroke-width="3.45"/>
<path d="M401.15,360.40 C392.42,368.29 392.42,382.01 401.15,389.90 L401.90,389.65 C395.03,381.20 395.03,369.10 401.90,360.65 Z" fill="#000"/>
<text transform="matrix(0.2497 0 0 0.2950 404.46 382.40)" font-family="Liberation Serif" font-style="italic" font-size="100" fill="#000">b</text>
<path d="M418.95,360.40 C428.62,367.86 428.62,382.44 418.95,389.90 L418.20,389.65 C426.00,381.56 426.00,368.74 418.20,360.65 Z" fill="#000"/>
<path transform="translate(147.60 455.90)" d="M0,2.7 C0.2,0.4 1.9,-2.4 4.5,-2.4 C7.8,-2.4 10.6,2.4 14.4,2.4 C17.0,2.4 18.8,-0.4 19.0,-2.7" fill="none" stroke="#000" stroke-width="1.55" stroke-linecap="round"/>
<path d="M185.85,441.20 C176.98,448.95 176.98,462.75 185.85,470.50 L186.60,470.25 C179.60,461.93 179.60,449.77 186.60,441.45 Z" fill="#000"/>
<text transform="matrix(0.3158 0 0 0.3022 189.05 463.60)" font-family="Liberation Serif" font-style="italic" font-size="100" fill="#000">k</text>
<text transform="matrix(0.2099 0 0 0.1909 204.36 467.60)" font-family="Liberation Serif" font-size="100" fill="#000">1</text>
<line x1="219.24" y1="470.50" x2="229.86" y2="441.20" stroke="#000" stroke-width="1.35" />
<text transform="matrix(0.3158 0 0 0.3022 232.25 463.60)" font-family="Liberation Serif" font-style="italic" font-size="100" fill="#000">k</text>
<text transform="matrix(0.2420 0 0 0.1896 247.37 467.71)" font-family="Liberation Serif" font-style="italic" font-size="100" fill="#000">e</text>
<path d="M262.35,441.20 C271.28,448.92 271.28,462.78 262.35,470.50 L261.60,470.25 C268.67,461.95 268.67,449.75 261.60,441.45 Z" fill="#000"/>
<line x1="273.80" y1="445.90" x2="288.00" y2="445.90" stroke="#000" stroke-width="1.2" />
<text transform="matrix(0.2298 0 0 0.1955 289.99 450.70)" font-family="Liberation Serif" font-size="100" fill="#000">1</text>
<text transform="matrix(0.2335 0 0 0.1985 300.86 450.80)" font-family="Liberation Serif" font-size="100" fill="#000">5</text>
<line x1="315.74" y1="456.10" x2="323.76" y2="435.10" stroke="#000" stroke-width="1.35" />
<text transform="matrix(0.2282 0 0 0.1985 325.64 450.80)" font-family="Liberation Serif" font-size="100" fill="#000">8</text>
<path transform="translate(618.80 739.50)" d="M0,2.7 C0.2,0.4 1.9,-2.4 4.5,-2.4 C7.8,-2.4 10.6,2.4 14.4,2.4 C17.0,2.4 18.8,-0.4 19.0,-2.7" fill="none" stroke="#000" stroke-width="1.55" stroke-linecap="round"/>
<path d="M657.05,724.80 C648.18,732.55 648.18,746.35 657.05,754.10 L657.80,753.85 C650.80,745.53 650.80,733.37 657.80,725.05 Z" fill="#000"/>
<text transform="matrix(0.3158 0 0 0.3022 660.25 747.20)" font-family="Liberation Serif" font-style="italic" font-size="100" fill="#000">k</text>
<text transform="matrix(0.2099 0 0 0.1909 675.56 751.20)" font-family="Liberation Serif" font-size="100" fill="#000">1</text>
<line x1="690.44" y1="754.10" x2="701.06" y2="724.80" stroke="#000" stroke-width="1.35" />
<text transform="matrix(0.3158 0 0 0.3022 703.45 747.20)" font-family="Liberation Serif" font-style="italic" font-size="100" fill="#000">k</text>
<text transform="matrix(0.2420 0 0 0.1896 718.57 751.31)" font-family="Liberation Serif" font-style="italic" font-size="100" fill="#000">e</text>
<path d="M733.55,724.80 C742.48,732.52 742.48,746.38 733.55,754.10 L732.80,753.85 C739.87,745.55 739.87,733.35 732.80,725.05 Z" fill="#000"/>
<line x1="745.00" y1="729.50" x2="759.20" y2="729.50" stroke="#000" stroke-width="1.2" />
<text transform="matrix(0.2012 0 0 0.1947 762.34 734.30)" font-family="Liberation Serif" font-size="100" fill="#000">2</text>
<text transform="matrix(0.2279 0 0 0.1963 772.32 734.40)" font-family="Liberation Serif" font-size="100" fill="#000">3</text>
<line x1="786.94" y1="739.70" x2="794.96" y2="718.70" stroke="#000" stroke-width="1.35" />
<text transform="matrix(0.2282 0 0 0.1985 796.84 734.40)" font-family="Liberation Serif" font-size="100" fill="#000">8</text>
<path transform="translate(478.90 536.00)" d="M0,2.7 C0.2,0.4 1.9,-2.4 4.5,-2.4 C7.8,-2.4 10.6,2.4 14.4,2.4 C17.0,2.4 18.8,-0.4 19.0,-2.7" fill="none" stroke="#000" stroke-width="1.55" stroke-linecap="round"/>
<line x1="512.30" y1="521.00" x2="512.30" y2="550.50" stroke="#000" stroke-width="1.2" />
<text transform="matrix(0.2950 0 0 0.2894 516.12 543.30)" font-family="Liberation Serif" font-size="100" fill="#000">1</text>
<line x1="540.30" y1="535.70" x2="558.30" y2="535.70" stroke="#000" stroke-width="1.2" />
<text transform="matrix(0.3064 0 0 0.3007 567.78 543.40)" font-family="Liberation Serif" font-style="italic" font-size="100" fill="#000">k</text>
<text transform="matrix(0.2128 0 0 0.1924 582.84 547.50)" font-family="Liberation Serif" font-size="100" fill="#000">1</text>
<line x1="597.94" y1="550.50" x2="609.26" y2="521.00" stroke="#000" stroke-width="1.35" />
<text transform="matrix(0.3158 0 0 0.3007 611.45 543.40)" font-family="Liberation Serif" font-style="italic" font-size="100" fill="#000">k</text>
<text transform="matrix(0.2318 0 0 0.1896 627.30 547.61)" font-family="Liberation Serif" font-style="italic" font-size="100" fill="#000">e</text>
<line x1="642.70" y1="521.00" x2="642.70" y2="550.50" stroke="#000" stroke-width="1.2" />
<line x1="649.40" y1="525.80" x2="663.50" y2="525.80" stroke="#000" stroke-width="1.2" />
<text transform="matrix(0.2429 0 0 0.2061 664.72 530.90)" font-family="Liberation Serif" font-size="100" fill="#000">7</text>
<line x1="679.04" y1="536.10" x2="687.16" y2="515.40" stroke="#000" stroke-width="1.35" />
<text transform="matrix(0.2329 0 0 0.2000 689.43 530.70)" font-family="Liberation Serif" font-size="100" fill="#000">8</text>
<line x1="618.9" y1="424.9" x2="665.3" y2="424.9" stroke="#ff0000" stroke-width="3.45" stroke-dasharray="10 3.07"/>
<line x1="618.90" y1="466.20" x2="665.30" y2="466.20" stroke="#0000ff" stroke-width="3.45" />
<line x1="679.50" y1="409.90" x2="679.50" y2="438.90" stroke="#000" stroke-width="1.2" />
<g transform="translate(684.60 410.70) scale(1.035)" fill="none" stroke="#000" stroke-linecap="round" stroke-linejoin="round"><path d="M13.7,2.2 C13.5,1.0 12.7,0.55 11.8,0.55 C10.4,0.55 9.45,1.8 8.95,3.6 C8.5,5.4 8.25,6.8 8.0,8.2 L6.95,15.0 L5.75,21.3 C5.45,22.9 5.05,24.0 4.4,24.8 C3.9,25.5 3.4,25.85 2.8,25.85 C2.0,25.85 1.5,25.4 1.45,24.7" stroke-width="1.05"/><path d="M9.0,4.3 C8.6,5.8 8.35,7.0 8.1,8.2 L7.0,15.0 L5.85,21.0 C5.65,22.2 5.4,23.0 5.0,23.7" stroke-width="2.25"/><path d="M5.0,8.1 L13.2,8.1" stroke-width="0.85" stroke-linecap="butt"/><circle cx="13.55" cy="2.45" r="1.4" fill="#000" stroke="none"/><circle cx="1.75" cy="24.2" r="1.4" fill="#000" stroke="none"/></g>
<text transform="matrix(0.2286 0 0 0.2083 698.24 436.70)" font-family="Liberation Serif" font-style="italic" font-size="100" fill="#000">i</text>
<g transform="translate(705.90 428.00) scale(1.000 1.000)" fill="none" stroke="#000" stroke-linecap="round" stroke-linejoin="round"><path d="M0.45,3.3 C0.7,1.8 1.6,0.5 2.7,0.5 C3.6,0.5 4.0,1.2 4.1,2.4 L4.3,5.8 C4.4,7.5 5.0,8.4 6.3,8.4 C8.3,8.4 10.6,5.6 11.45,3.0 C11.7,2.2 11.6,1.6 11.2,1.2" stroke-width="1.0"/><path d="M3.75,1.3 C4.2,2.4 4.2,4.2 4.3,5.6 C4.4,6.9 4.8,7.6 5.4,8.0" stroke-width="2.15"/><circle cx="10.9" cy="1.35" r="1.2" fill="#000" stroke="none"/></g>
<line x1="724.70" y1="409.90" x2="724.70" y2="438.90" stroke="#000" stroke-width="1.2" />
<line x1="679.50" y1="451.20" x2="679.50" y2="480.70" stroke="#000" stroke-width="1.2" />
<g transform="translate(684.60 452.00) scale(1.035)" fill="none" stroke="#000" stroke-linecap="round" stroke-linejoin="round"><path d="M13.7,2.2 C13.5,1.0 12.7,0.55 11.8,0.55 C10.4,0.55 9.45,1.8 8.95,3.6 C8.5,5.4 8.25,6.8 8.0,8.2 L6.95,15.0 L5.75,21.3 C5.45,22.9 5.05,24.0 4.4,24.8 C3.9,25.5 3.4,25.85 2.8,25.85 C2.0,25.85 1.5,25.4 1.45,24.7" stroke-width="1.05"/><path d="M9.0,4.3 C8.6,5.8 8.35,7.0 8.1,8.2 L7.0,15.0 L5.85,21.0 C5.65,22.2 5.4,23.0 5.0,23.7" stroke-width="2.25"/><path d="M5.0,8.1 L13.2,8.1" stroke-width="0.85" stroke-linecap="butt"/><circle cx="13.55" cy="2.45" r="1.4" fill="#000" stroke="none"/><circle cx="1.75" cy="24.2" r="1.4" fill="#000" stroke="none"/></g>
<g transform="translate(698.30 469.30) scale(0.926 1.000)" fill="none" stroke="#000" stroke-linecap="round" stroke-linejoin="round"><path d="M0.45,3.3 C0.7,1.8 1.6,0.5 2.7,0.5 C3.6,0.5 4.0,1.2 4.1,2.4 L4.3,5.8 C4.4,7.5 5.0,8.4 6.3,8.4 C8.3,8.4 10.6,5.6 11.45,3.0 C11.7,2.2 11.6,1.6 11.2,1.2" stroke-width="1.0"/><path d="M3.75,1.3 C4.2,2.4 4.2,4.2 4.3,5.6 C4.4,6.9 4.8,7.6 5.4,8.0" stroke-width="2.15"/><circle cx="10.9" cy="1.35" r="1.2" fill="#000" stroke="none"/></g>
<line x1="716.20" y1="451.20" x2="716.20" y2="480.70" stroke="#000" stroke-width="1.2" />
<text transform="matrix(0.3135 0 0 0.2993 739.56 804.00)" font-family="Liberation Serif" font-style="italic" font-size="100" fill="#000">k</text>
<text transform="matrix(0.2326 0 0 0.1909 754.06 807.90)" font-family="Liberation Serif" font-size="100" fill="#000">1</text>
<line x1="769.84" y1="810.60" x2="780.56" y2="781.40" stroke="#000" stroke-width="1.35" />
<text transform="matrix(0.3135 0 0 0.2993 782.76 804.00)" font-family="Liberation Serif" font-style="italic" font-size="100" fill="#000">k</text>
<text transform="matrix(0.2318 0 0 0.1875 798.20 808.11)" font-family="Liberation Serif" font-style="italic" font-size="100" fill="#000">e</text>
<line x1="1.90" y1="604.20" x2="1.90" y2="633.20" stroke="#000" stroke-width="1.2" />
<g transform="translate(7.50 605.10) scale(1.035)" fill="none" stroke="#000" stroke-linecap="round" stroke-linejoin="round"><path d="M13.7,2.2 C13.5,1.0 12.7,0.55 11.8,0.55 C10.4,0.55 9.45,1.8 8.95,3.6 C8.5,5.4 8.25,6.8 8.0,8.2 L6.95,15.0 L5.75,21.3 C5.45,22.9 5.05,24.0 4.4,24.8 C3.9,25.5 3.4,25.85 2.8,25.85 C2.0,25.85 1.5,25.4 1.45,24.7" stroke-width="1.05"/><path d="M9.0,4.3 C8.6,5.8 8.35,7.0 8.1,8.2 L7.0,15.0 L5.85,21.0 C5.65,22.2 5.4,23.0 5.0,23.7" stroke-width="2.25"/><path d="M5.0,8.1 L13.2,8.1" stroke-width="0.85" stroke-linecap="butt"/><circle cx="13.55" cy="2.45" r="1.4" fill="#000" stroke="none"/><circle cx="1.75" cy="24.2" r="1.4" fill="#000" stroke="none"/></g>
<text transform="matrix(0.1870 0 0 0.2083 21.77 630.80)" font-family="Liberation Serif" font-style="italic" font-size="100" fill="#000">i</text>
<g transform="translate(28.60 622.00) scale(0.893 0.989)" fill="none" stroke="#000" stroke-linecap="round" stroke-linejoin="round"><path d="M0.45,3.3 C0.7,1.8 1.6,0.5 2.7,0.5 C3.6,0.5 4.0,1.2 4.1,2.4 L4.3,5.8 C4.4,7.5 5.0,8.4 6.3,8.4 C8.3,8.4 10.6,5.6 11.45,3.0 C11.7,2.2 11.6,1.6 11.2,1.2" stroke-width="1.0"/><path d="M3.75,1.3 C4.2,2.4 4.2,4.2 4.3,5.6 C4.4,6.9 4.8,7.6 5.4,8.0" stroke-width="2.15"/><circle cx="10.9" cy="1.35" r="1.2" fill="#000" stroke="none"/></g>
<text transform="matrix(0.2667 0 0 0.2369 41.60 630.93)" font-family="Liberation Serif" font-size="100" fill="#000">,</text>
<g transform="translate(49.00 622.00) scale(0.893 0.989)" fill="none" stroke="#000" stroke-linecap="round" stroke-linejoin="round"><path d="M0.45,3.3 C0.7,1.8 1.6,0.5 2.7,0.5 C3.6,0.5 4.0,1.2 4.1,2.4 L4.3,5.8 C4.4,7.5 5.0,8.4 6.3,8.4 C8.3,8.4 10.6,5.6 11.45,3.0 C11.7,2.2 11.6,1.6 11.2,1.2" stroke-width="1.0"/><path d="M3.75,1.3 C4.2,2.4 4.2,4.2 4.3,5.6 C4.4,6.9 4.8,7.6 5.4,8.0" stroke-width="2.15"/><circle cx="10.9" cy="1.35" r="1.2" fill="#000" stroke="none"/></g>
<line x1="66.50" y1="604.20" x2="66.50" y2="633.20" stroke="#000" stroke-width="1.2" />
</svg>
</body></html>
